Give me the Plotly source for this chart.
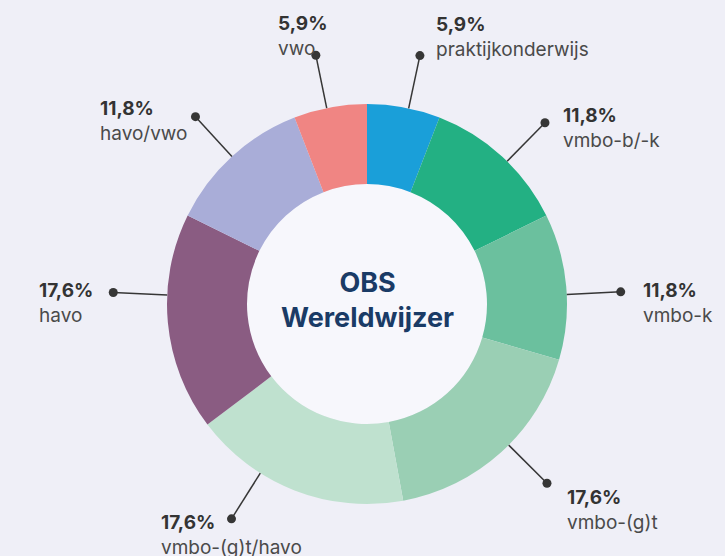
import math
import plotly.graph_objects as go

# ---- data ----
categories = ["praktijkonderwijs", "vmbo-b/-k", "vmbo-k", "vmbo-(g)t",
              "vmbo-(g)t/havo", "havo", "havo/vwo", "vwo"]
percentages = [5.9, 11.8, 11.8, 17.6, 17.6, 17.6, 11.8, 5.9]
slice_colors = ["#1a9fd9", "#23b083", "#6bc09e", "#9acfb4",
                "#bfe1cf", "#8a5c82", "#a9add8", "#f08583"]
center_title = "OBS<br>Wereldwijzer"

# ---- layout / style ----
W, H = 725, 556
CX, CY = 367, 304          # donut centre in pixels
R_OUT = 200                # outer radius in pixels
HOLE = 0.6
R_DOT = 254
# angular nudge (deg) of each label leader from the slice middle
label_nudge_deg = [1.4, 2.0, 2.3, -3.0, 11.0, 8.0, 0.0, -1.0]
# text block top-left offset from the dot (px)
label_offsets = [(14, -45), (16, -21), (20, -15), (18, 1),
                 (-73, -10), (-76, -15), (-97, -22), (-40, -45)]

BG = "#efeff7"
INNER = "#f7f7fc"
INK = "#363636"
FONT = "Inter"

fig = go.Figure()

fig.add_trace(go.Pie(
    labels=categories, values=percentages, sort=False,
    direction="clockwise", rotation=0, hole=HOLE,
    marker=dict(colors=slice_colors, line=dict(width=0)),
    textinfo="none", hoverinfo="skip", showlegend=False,
    domain=dict(x=[(CX - R_OUT) / W, (CX + R_OUT) / W],
                y=[1 - (CY + R_OUT) / H, 1 - (CY - R_OUT) / H]),
))

# inner disc
r_in = R_OUT * HOLE
shapes = [dict(type="circle", xref="x", yref="y", layer="below",
               x0=CX - r_in, x1=CX + r_in, y0=CY - r_in, y1=CY + r_in,
               fillcolor=INNER, line=dict(width=0))]

annotations = []
total = sum(percentages)
cum = 0.0
for i, (cat, v) in enumerate(zip(categories, percentages)):
    mid = (cum + v / 2) / total * 360
    cum += v
    th = math.radians(mid + label_nudge_deg[i])
    sx, sy = CX + R_OUT * math.sin(th), CY - R_OUT * math.cos(th)
    dx, dy = CX + R_DOT * math.sin(th), CY - R_DOT * math.cos(th)
    shapes.append(dict(type="line", xref="x", yref="y", x0=sx, y0=sy,
                       x1=dx, y1=dy, line=dict(color=INK, width=1.5)))
    shapes.append(dict(type="circle", xref="x", yref="y",
                       x0=dx - 4.5, x1=dx + 4.5, y0=dy - 4.5, y1=dy + 4.5,
                       fillcolor=INK, line=dict(width=0)))
    ox, oy = label_offsets[i]
    pct = f"{v:.1f}".replace(".", ",") + "%"
    annotations.append(dict(
        x=dx + ox, y=dy + oy, xref="x", yref="y",
        xanchor="left", yanchor="top", align="left", showarrow=False,
        text=f"<b>{pct}</b><br><span style='color:#4a4a4a'>{cat}</span>",
        font=dict(family=FONT, size=19, color="#333333")))

annotations.append(dict(
    x=CX, y=CY - 4, xref="x", yref="y", showarrow=False,
    text=f"<b>{center_title}</b>", align="center",
    font=dict(family=FONT, size=27, color="#1a3b66")))

fig.update_layout(
    width=W, height=H, margin=dict(l=0, r=0, t=0, b=0),
    paper_bgcolor=BG, plot_bgcolor="rgba(0,0,0,0)",
    xaxis=dict(range=[0, W], visible=False, fixedrange=True),
    yaxis=dict(range=[H, 0], visible=False, fixedrange=True),
    shapes=shapes, annotations=annotations, showlegend=False,
)

fig.write_html("out.html", config={"displayModeBar": False},
               post_script="document.body.style.margin='0';"
                           "document.body.style.background='" + BG + "';")
